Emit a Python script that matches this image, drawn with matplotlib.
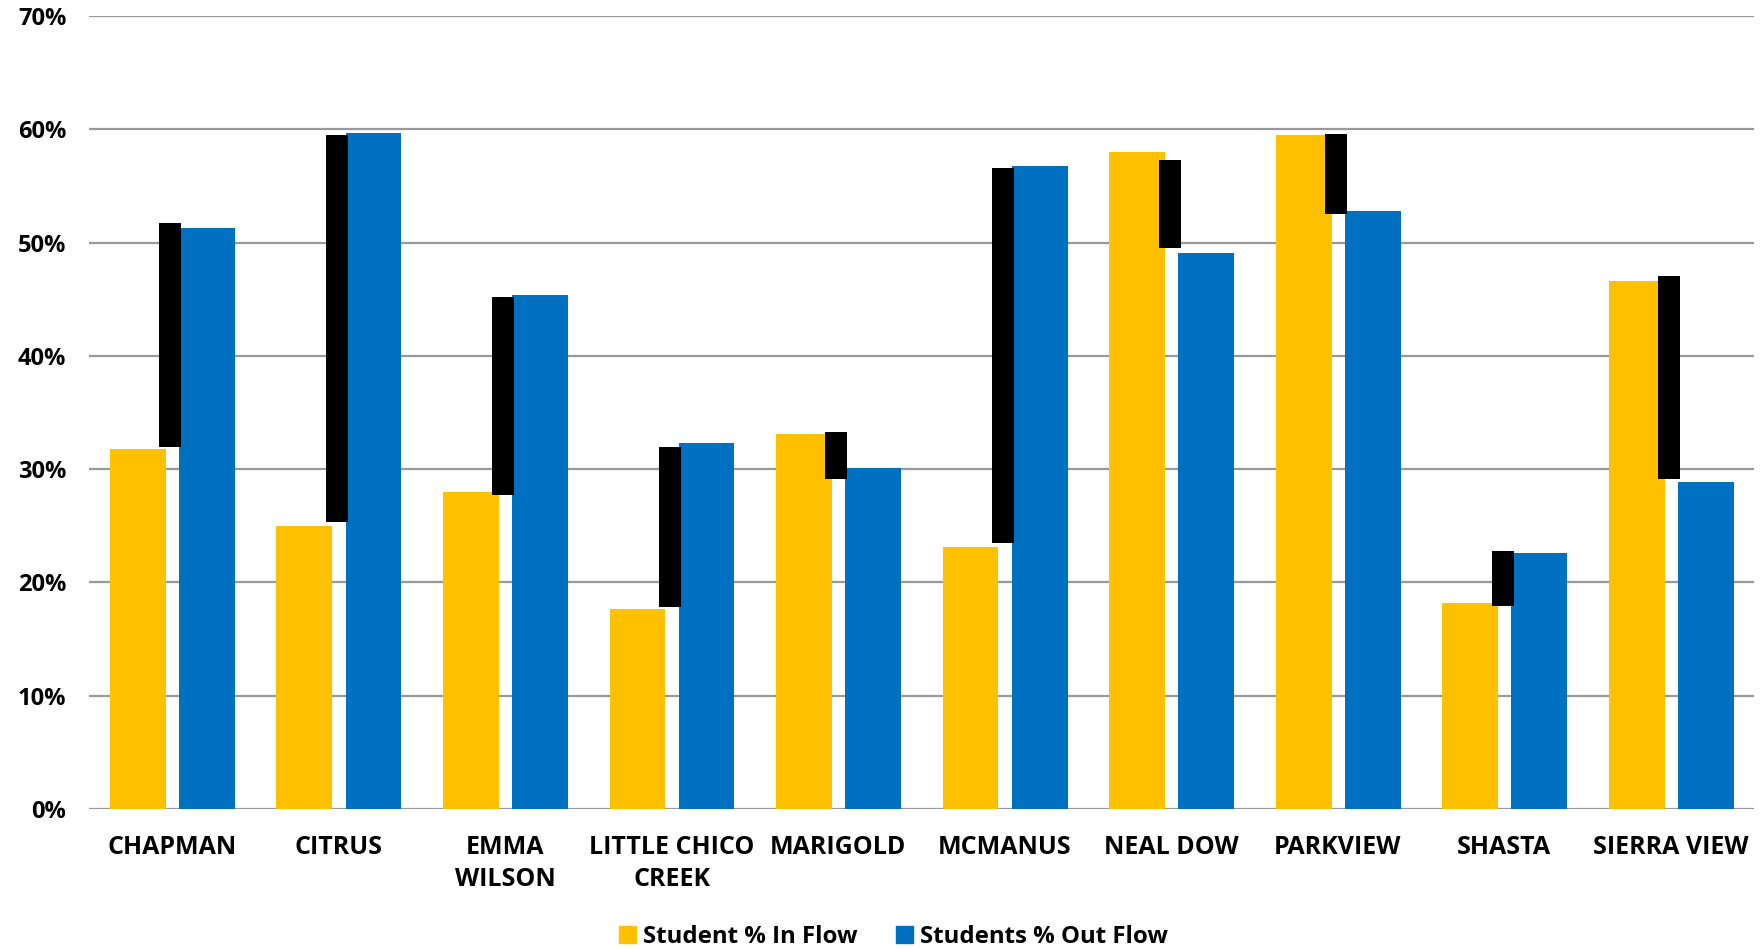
import matplotlib
matplotlib.use("Agg")
import matplotlib.pyplot as plt
from matplotlib.patches import Patch
import numpy as np

plt.rcParams['font.family'] = ['Open Sans', 'DejaVu Sans']

schools = ["CHAPMAN", "CITRUS", "EMMA\nWILSON", "LITTLE CHICO\nCREEK", "MARIGOLD",
           "MCMANUS", "NEAL DOW", "PARKVIEW", "SHASTA", "SIERRA VIEW"]
in_flow = [31.8, 25.0, 28.0, 17.7, 33.1, 23.1, 58.0, 59.5, 18.2, 46.6]
out_flow = [51.3, 59.7, 45.4, 32.3, 30.1, 56.8, 49.1, 52.8, 22.6, 28.9]
gap_low = [32.0, 25.3, 27.7, 17.8, 29.1, 23.5, 49.5, 52.5, 17.9, 29.1]
gap_high = [51.7, 59.5, 45.2, 32.0, 33.3, 56.6, 57.3, 59.6, 22.8, 47.1]
yticks = [0, 10, 20, 30, 40, 50, 60, 70]
legend_labels = ["Student % In Flow", "Students % Out Flow"]

YELLOW = "#FFC000"
BLUE = "#0070C0"

fig = plt.figure(figsize=(17.63, 9.49), dpi=100)
ax = fig.add_axes([0.0503, 0.1475, 0.9447, 0.8355])

x = np.arange(len(schools))
w = 0.335
ax.bar(x - 0.205, in_flow, width=w, color=YELLOW, zorder=2)
ax.bar(x + 0.21, out_flow, width=w, color=BLUE, zorder=2)
ax.bar(x - 0.01, np.array(gap_high) - np.array(gap_low), bottom=gap_low,
       width=0.132, color="black", zorder=3)

ax.set_xlim(-0.5, len(schools) - 0.5)
ax.set_ylim(0, 70)
ax.set_yticks(yticks)
ax.set_yticklabels([f"{t}%" for t in yticks], fontsize=17, fontweight="bold")
ax.set_xticks(x)
ax.set_xticklabels(schools, fontsize=18, fontweight="bold", linespacing=1.34)
ax.tick_params(axis="y", length=0, pad=16)
ax.tick_params(axis="x", length=0, pad=19)
for s in ax.spines.values():
    s.set_visible(False)
ax.grid(axis="y", color="#999999", linewidth=1.6, zorder=0)
ax.set_axisbelow(True)

handles = [Patch(color=YELLOW), Patch(color=BLUE)]
fig.legend(handles, legend_labels, loc="center", bbox_to_anchor=(0.507, 0.013),
           ncol=2, frameon=False, prop={"size": 17.3, "weight": "bold"},
           handlelength=0.7, handleheight=0.7, handletextpad=0.3, columnspacing=1.6)

fig.savefig("out.png", dpi=100)
